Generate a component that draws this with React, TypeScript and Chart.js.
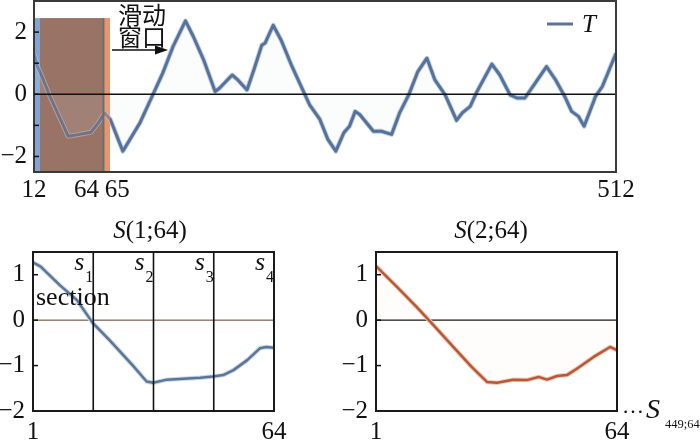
import React, { useEffect, useRef } from "react";
import { Chart, registerables } from "chart.js";

Chart.register(...registerables);

const SERIF = "'Liberation Serif', 'Times New Roman', serif";
const CJK = "'Noto Sans CJK SC', 'Noto Sans CJK JP', sans-serif";

// ---------- Top chart: full series T (sample index 1..512) ----------
const topIdx = [
  1, 2, 3.5, 8, 15, 31, 41, 51, 57.5, 63, 68, 79, 94, 106, 114, 123, 134, 141, 150, 160,
  164, 175, 180, 188, 194, 201, 204, 211, 218, 227, 239, 243, 252, 259, 266, 273, 278, 283,
  287, 299, 306, 315, 322, 330, 338, 346, 353, 362, 372, 377, 384, 390, 403, 410, 419, 425,
  432, 440, 451, 459, 467, 473, 479, 484, 488, 494, 500, 512,
];
const topT = [
  1.28, 1.2, 0.94, 0.57, -0.07, -1.35, -1.29, -1.22, -0.92, -0.6, -0.81, -1.83, -0.92, 0.04,
  0.68, 1.53, 2.36, 1.85, 1.1, 0.09, 0.2, 0.62, 0.46, 0.14, 0.78, 1.58, 1.65, 2.22, 1.74, 0.94,
  -0.02, -0.34, -0.81, -1.45, -1.83, -1.24, -1.03, -0.55, -0.65, -1.19, -1.19, -1.29, -0.6,
  -0.02, 0.73, 1.16, 0.46, -0.02, -0.84, -0.6, -0.39, 0.09, 0.97, 0.62, -0.02, -0.12, -0.12,
  0.3, 0.89, 0.46, -0.07, -0.55, -0.71, -1.03, -0.65, -0.07, 0.25, 1.32,
];
const topXTickValues = [1, 47, 74, 512];
const topXTickLabels = ["12", "64", "65", "512"];
const topYTickValues = [-2, -1, 0, 1, 2];
const topYLabelValues = [-2, 0, 2];
const window1 = [1, 62];
const window2 = [6.3, 67.7];
const windowTop = 2.45;
const windowText = ["滑动", "窗口"];
const legendLabel = "T";

// ---------- Bottom-left: S(1;64) ----------
const s1Idx = [1, 3, 8, 12.5, 16.6, 21, 27, 30.7, 32.4, 36, 40.3, 44.7, 48, 50.7, 53.4, 57, 60.3, 62, 64];
const s1Val = [1.27, 1.18, 0.77, 0.44, -0.06, -0.44, -0.99, -1.35, -1.38, -1.31, -1.29, -1.27, -1.24, -1.21, -1.1, -0.88, -0.62, -0.59, -0.61];
const sectionBounds = [16.75, 32.5, 48.25];
const sectionSubs = ["1", "2", "3", "4"];

// ---------- Bottom-right: S(2;64) ----------
const s2Idx = [1, 6.4, 11.6, 15.6, 21.2, 26, 30, 32.6, 36.9, 40.4, 43.5, 45.7, 48.3, 50.9, 53.5, 57.9, 62.2, 64];
const s2Val = [1.19, 0.74, 0.29, -0.07, -0.59, -1.03, -1.36, -1.38, -1.31, -1.32, -1.25, -1.31, -1.23, -1.21, -1.07, -0.81, -0.59, -0.66];

const bottomYTicks = [-2, -1, 0, 1];
const bottomXTicks = [1, 64];

const fmt = (v: number) => (v < 0 ? "\u2212" + Math.abs(v) : String(v));
const pts = (xs: number[], ys: number[]) => xs.map((x, i) => ({ x, y: ys[i] }));

type Run = [string, string, number?];
function drawRuns(ctx: CanvasRenderingContext2D, x: number, y: number, runs: Run[], align: "left" | "center" = "left") {
  ctx.save();
  ctx.textBaseline = "alphabetic";
  ctx.textAlign = "left";
  ctx.fillStyle = "#111";
  let total = 0;
  runs.forEach(([t, f]) => {
    ctx.font = f;
    total += ctx.measureText(t).width;
  });
  let cx = align === "center" ? x - total / 2 : x;
  runs.forEach(([t, f, dy]) => {
    ctx.font = f;
    ctx.fillText(t, cx, y + (dy || 0));
    cx += ctx.measureText(t).width;
  });
  ctx.restore();
}

function frame(chart: any, color: string, lw: number) {
  const { ctx, chartArea: a } = chart;
  ctx.save();
  ctx.strokeStyle = color;
  ctx.lineWidth = lw;
  ctx.strokeRect(a.left, a.top, a.right - a.left, a.bottom - a.top);
  ctx.restore();
}

function innerTicks(chart: any, values: number[], len: number) {
  const { ctx, chartArea: a, scales } = chart;
  ctx.save();
  ctx.strokeStyle = "#111";
  ctx.lineWidth = 1.5;
  values.forEach((v) => {
    const py = scales.y.getPixelForValue(v);
    ctx.beginPath();
    ctx.moveTo(a.left, py);
    ctx.lineTo(a.left + len, py);
    ctx.stroke();
  });
  ctx.restore();
}

function hline(chart: any, value: number, color: string, lw: number) {
  const { ctx, chartArea: a, scales } = chart;
  const py = scales.y.getPixelForValue(value);
  ctx.save();
  ctx.strokeStyle = color;
  ctx.lineWidth = lw;
  ctx.beginPath();
  ctx.moveTo(a.left, py);
  ctx.lineTo(a.right, py);
  ctx.stroke();
  ctx.restore();
}

function drawWindows(chart: any, alpha: number) {
  const { ctx, chartArea: a, scales } = chart;
  const x = scales.x;
  const yt = scales.y.getPixelForValue(windowTop);
  const yb = a.bottom;
  const xa = x.getPixelForValue(window1[0]);
  const xb = x.getPixelForValue(window2[0]);
  const xc = x.getPixelForValue(window1[1]);
  const xd = x.getPixelForValue(window2[1]);
  ctx.save();
  ctx.globalAlpha = alpha;
  ctx.fillStyle = "#84a5cf";
  ctx.fillRect(xa, yt, xb - xa, yb - yt);
  ctx.fillStyle = "#987367";
  ctx.fillRect(xb, yt, xc - xb, yb - yt);
  ctx.fillStyle = "#e9946b";
  ctx.fillRect(xc, yt, xd - xc, yb - yt);
  ctx.restore();
  return xc;
}

const topPlugin = {
  id: "topDecor",
  beforeDatasetsDraw(chart: any) {
    drawWindows(chart, 1);
  },
  afterDatasetsDraw(chart: any) {
    const { ctx, chartArea: a } = chart;
    const xc = drawWindows(chart, 0.45);
    const yt = chart.scales.y.getPixelForValue(windowTop);
    ctx.save();
    ctx.strokeStyle = "#6e6e6e";
    ctx.lineWidth = 2;
    ctx.beginPath();
    ctx.moveTo(xc, yt);
    ctx.lineTo(xc, a.bottom);
    ctx.stroke();
    ctx.restore();
    hline(chart, 0, "#111", 1.6);
  },
  afterDraw(chart: any) {
    const { ctx } = chart;
    frame(chart, "#3a3a3a", 2);
    innerTicks(chart, topYTickValues, 5);
    // legend
    ctx.save();
    ctx.strokeStyle = "#5a7499";
    ctx.lineWidth = 3;
    ctx.beginPath();
    ctx.moveTo(547, 24);
    ctx.lineTo(573, 24);
    ctx.stroke();
    ctx.restore();
    drawRuns(ctx, 582, 32, [[legendLabel, `italic 25px ${SERIF}`]]);
    // sliding window text
    ctx.save();
    ctx.fillStyle = "#111";
    ctx.font = `24px ${CJK}`;
    ctx.textBaseline = "middle";
    ctx.textAlign = "left";
    ctx.fillText(windowText[0], 118, 15);
    ctx.fillText(windowText[1], 118, 37);
    // arrow
    ctx.strokeStyle = "#111";
    ctx.lineWidth = 1.5;
    ctx.beginPath();
    ctx.moveTo(112, 50);
    ctx.lineTo(158, 50);
    ctx.stroke();
    ctx.beginPath();
    ctx.moveTo(168, 50);
    ctx.lineTo(155, 45.5);
    ctx.lineTo(155, 54.5);
    ctx.closePath();
    ctx.fill();
    ctx.restore();
  },
};

const blPlugin = {
  id: "blDecor",
  beforeDatasetsDraw(chart: any) {
    hline(chart, 0, "#5a3d30", 1);
  },
  afterDraw(chart: any) {
    const { ctx, chartArea: a, scales } = chart;
    ctx.save();
    ctx.strokeStyle = "#111";
    ctx.lineWidth = 1.6;
    sectionBounds.forEach((b) => {
      const px = scales.x.getPixelForValue(b);
      ctx.beginPath();
      ctx.moveTo(px, a.top);
      ctx.lineTo(px, a.bottom);
      ctx.stroke();
    });
    ctx.restore();
    frame(chart, "#1a1a1a", 2);
    innerTicks(chart, [-1, 0, 1], 5);
    drawRuns(ctx, 150, 37.5, [["S", `italic 25px ${SERIF}`], ["(1;64)", `25px ${SERIF}`]], "center");
    const xs = [...sectionBounds.map((b) => scales.x.getPixelForValue(b)), a.right];
    xs.forEach((lx, i) => {
      drawRuns(ctx, lx - 19, 70, [["s", `italic 26px ${SERIF}`]]);
      drawRuns(ctx, lx - 8, 82, [[sectionSubs[i], `16px ${SERIF}`]]);
    });
    drawRuns(ctx, 36, 105, [["section", `26px ${SERIF}`]]);
  },
};

const brPlugin = {
  id: "brDecor",
  beforeDatasetsDraw(chart: any) {
    hline(chart, 0, "#111", 1.2);
  },
  afterDraw(chart: any) {
    const { ctx } = chart;
    frame(chart, "#1a1a1a", 2);
    innerTicks(chart, [-1, 0, 1], 5);
    drawRuns(ctx, 171, 37.5, [["S", `italic 25px ${SERIF}`], ["(2;64)", `25px ${SERIF}`]], "center");
    drawRuns(ctx, 302, 213, [["\u2026", `22px ${SERIF}`]]);
    drawRuns(ctx, 326, 218, [["S", `italic 28px ${SERIF}`]]);
    drawRuns(ctx, 345, 228, [["449;64", `12.5px ${SERIF}`]]);
  },
};

function axes(opts: {
  xMin: number; xMax: number; yMin: number; yMax: number;
  xTicks: number[]; xLabel: (v: number) => string;
  yTicks: number[]; yLabel: (v: number) => string;
  yWidth: number; xHeight: number; xPad: number; yPad: number;
}) {
  const zeroPad = (s: any) => {
    s.paddingTop = 0;
    s.paddingBottom = 0;
    s.paddingLeft = 0;
    s.paddingRight = 0;
  };
  return {
    x: {
      type: "linear",
      min: opts.xMin,
      max: opts.xMax,
      afterFit: (s: any) => { s.height = opts.xHeight; zeroPad(s); },
      afterBuildTicks: (s: any) => { s.ticks = opts.xTicks.map((v) => ({ value: v })); },
      grid: { display: false, drawTicks: false },
      border: { display: false },
      ticks: {
        autoSkip: false, maxRotation: 0, minRotation: 0, padding: opts.xPad,
        color: "#111", font: { family: SERIF, size: 25 },
        callback: (v: any) => opts.xLabel(Number(v)),
      },
    },
    y: {
      type: "linear",
      min: opts.yMin,
      max: opts.yMax,
      afterFit: (s: any) => { s.width = opts.yWidth; zeroPad(s); },
      afterBuildTicks: (s: any) => { s.ticks = opts.yTicks.map((v) => ({ value: v })); },
      grid: { display: false, drawTicks: false },
      border: { display: false },
      ticks: {
        padding: opts.yPad, color: "#111", font: { family: SERIF, size: 25 },
        callback: (v: any) => opts.yLabel(Number(v)),
      },
    },
  };
}

function makeTop(canvas: HTMLCanvasElement) {
  return new Chart(canvas, {
    type: "line",
    data: {
      datasets: [
        { data: pts(topIdx, topT), borderColor: "#56719a", borderWidth: 3, pointRadius: 0, fill: false, borderJoinStyle: "round", order: 0 },
        { data: pts(topIdx, topT), borderColor: "#bccde1", borderWidth: 4.8, pointRadius: 0, fill: "origin", backgroundColor: "rgba(236,239,242,0.2)", borderJoinStyle: "round", order: 1 },
      ],
    } as any,
    options: {
      animation: false, responsive: false, devicePixelRatio: 1,
      layout: { padding: { left: 0, right: 84, top: 1, bottom: 0 } },
      plugins: { legend: { display: false }, tooltip: { enabled: false } },
      scales: axes({
        xMin: 1, xMax: 512, yMin: -2.5, yMax: 3,
        xTicks: topXTickValues, xLabel: (v) => topXTickLabels[topXTickValues.indexOf(v)] ?? "",
        yTicks: topYTickValues, yLabel: (v) => (topYLabelValues.includes(v) ? fmt(v) : ""),
        yWidth: 34, xHeight: 32, xPad: 3, yPad: 7,
      }),
    } as any,
    plugins: [topPlugin],
  });
}

function makeBottom(canvas: HTMLCanvasElement, xs: number[], ys: number[], color: string, halo: string, fillColor: string, padRight: number, yWidth: number, plugin: any) {
  return new Chart(canvas, {
    type: "line",
    data: {
      datasets: [
        { data: pts(xs, ys), borderColor: color, borderWidth: 2.5, pointRadius: 0, fill: false, borderJoinStyle: "round", order: 0 },
        { data: pts(xs, ys), borderColor: halo, borderWidth: 4.5, pointRadius: 0, fill: "origin", backgroundColor: fillColor, borderJoinStyle: "round", order: 1 },
      ],
    } as any,
    options: {
      animation: false, responsive: false, devicePixelRatio: 1,
      layout: { padding: { left: 0, right: padRight, top: 52, bottom: 0 } },
      plugins: { legend: { display: false }, tooltip: { enabled: false } },
      scales: axes({
        xMin: 1, xMax: 64, yMin: -2, yMax: 1.5,
        xTicks: bottomXTicks, xLabel: (v) => String(v),
        yTicks: bottomYTicks, yLabel: (v) => fmt(v),
        yWidth, xHeight: 29, xPad: 6, yPad: 8,
      }),
    } as any,
    plugins: [plugin],
  });
}

function ChartCanvas(props: { make: (c: HTMLCanvasElement) => Chart; left: number; top: number; width: number; height: number }) {
  const ref = useRef<HTMLCanvasElement>(null);
  useEffect(() => {
    const c = props.make(ref.current!);
    return () => c.destroy();
  }, []);
  return (
    <canvas
      ref={ref}
      width={props.width}
      height={props.height}
      style={{ position: "absolute", left: props.left, top: props.top, width: props.width, height: props.height, display: "block" }}
    />
  );
}

export default function App() {
  return (
    <div style={{ position: "fixed", left: 0, top: 0, width: 700, height: 440, background: "#fff", overflow: "hidden" }}>
      <ChartCanvas make={makeTop} left={0} top={0} width={700} height={204} />
      <ChartCanvas
        make={(c) => makeBottom(c, s1Idx, s1Val, "#5b7598", "#cdd9e6", "rgba(0,0,0,0)", 46, 33, blPlugin)}
        left={0} top={200} width={320} height={240}
      />
      <ChartCanvas
        make={(c) => makeBottom(c, s2Idx, s2Val, "#b5593a", "#f0c9b3", "rgba(248,226,214,0.07)", 83, 56, brPlugin)}
        left={320} top={200} width={380} height={240}
      />
    </div>
  );
}
